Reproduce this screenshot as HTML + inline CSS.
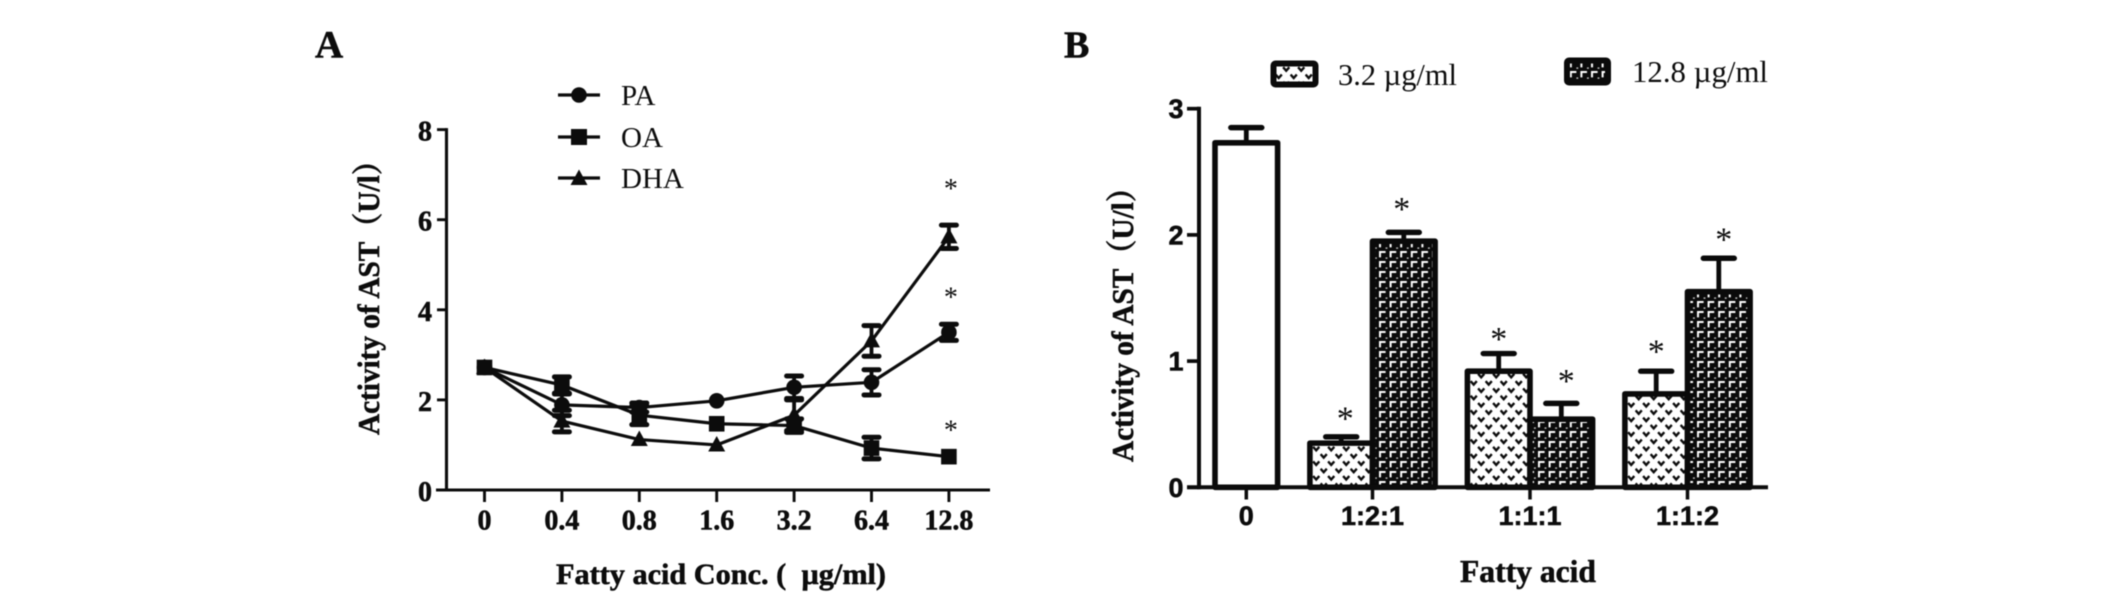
<!DOCTYPE html>
<html lang="en">
<head>
<meta charset="utf-8">
<title>Activity of AST</title>
<style>
html,body{margin:0;padding:0;background:#fff;width:2126px;height:600px;overflow:hidden}
svg{display:block;filter:blur(0.45px)}
.serif{font-family:"Liberation Serif","Noto Serif CJK SC",serif;fill:#0c0c0c}
.sans{font-family:"Liberation Sans","Noto Sans CJK SC",sans-serif;fill:#0c0c0c}
.b{font-weight:bold;stroke:#0c0c0c;stroke-width:0.55px}
</style>
</head>
<body>
<svg id="fig" xmlns="http://www.w3.org/2000/svg" width="2126" height="600" viewBox="0 0 2126 600">
  <defs>
    <pattern id="p-light" width="15" height="14.6" patternUnits="userSpaceOnUse">
      <rect width="15" height="14.6" fill="#fff"/>
      <path d="M0.6 1.5 L3.7 5 L6.8 1.5 M8.1 8.8 L11.2 12.3 L14.3 8.8" fill="none" stroke="#0c0c0c" stroke-width="2.4"/>
    </pattern>
    <pattern id="p-dark" width="10.6" height="10" patternUnits="userSpaceOnUse">
      <rect width="10.6" height="10" fill="#0a0a0a"/>
      <path d="M2 7.4 V2 H7.6" fill="none" stroke="#fff" stroke-width="2"/>
      <rect x="7.6" y="7.4" width="1.8" height="1.4" fill="#ccc"/>
    </pattern>
  </defs>

  <text class="serif b" x="315" y="57.5" font-size="39">A</text>
  <text class="serif b" x="1064" y="57.5" font-size="38">B</text>

  <text class="serif b" font-size="31" transform="translate(379 435) rotate(-90)" textLength="289" lengthAdjust="spacingAndGlyphs">Activity of AST（U/l）</text>
  <text class="serif b" font-size="30" x="556" y="584" textLength="330" lengthAdjust="spacingAndGlyphs">Fatty acid Conc. (&#160;&#160;µg/ml)</text>

  <text class="serif b" font-size="31" transform="translate(1133 462) rotate(-90)" textLength="289" lengthAdjust="spacingAndGlyphs">Activity of AST（U/l）</text>
  <text class="serif b" font-size="32" x="1460" y="582" textLength="136" lengthAdjust="spacingAndGlyphs">Fatty acid</text>

  <g id="legend-a">
    <g>
      <line x1="558" x2="600" y1="95" y2="95" stroke="#0c0c0c" stroke-width="3.2"/>
      <circle cx="579" cy="95" r="7.8" fill="#0c0c0c"/>
      <text class="serif" x="621" y="105" font-size="29">PA</text>
    </g>
    <g>
      <line x1="558" x2="600" y1="137" y2="137" stroke="#0c0c0c" stroke-width="3.2"/>
      <rect x="571" y="129" width="16" height="16" fill="#0c0c0c"/>
      <text class="serif" x="621" y="147" font-size="29">OA</text>
    </g>
    <g>
      <line x1="558" x2="600" y1="178" y2="178" stroke="#0c0c0c" stroke-width="3.2"/>
      <path d="M579 169.5 L587.5 185 L570.5 185 Z" fill="#0c0c0c"/>
      <text class="serif" x="621" y="188" font-size="29">DHA</text>
    </g>
  </g>

  <g id="legend-b">
    <g>
      <rect x="1273.5" y="63.5" width="42" height="21" rx="2" fill="url(#p-light)" stroke="#0a0a0a" stroke-width="6"/>
      <text class="serif" x="1338" y="85" font-size="31" textLength="119" lengthAdjust="spacingAndGlyphs">3.2 µg/ml</text>
    </g>
    <g>
      <rect x="1567" y="60.5" width="41" height="22" rx="2" fill="url(#p-dark)" stroke="#0a0a0a" stroke-width="6"/>
      <text class="serif" x="1632" y="82" font-size="31" textLength="136" lengthAdjust="spacingAndGlyphs">12.8 µg/ml</text>
    </g>
  </g>

  <g id="chart-a"></g>
  <g id="chart-b"></g>
</svg>
<script>
// Panel A data
const concLabels = ['0','0.4','0.8','1.6','3.2','6.4','12.8'];
const yTicksA = [0,2,4,6,8];
const paValues  = [2.72,1.89,1.83,1.98,2.28,2.39,3.50];
const oaValues  = [2.72,2.33,1.66,1.47,1.43,0.93,0.74];
const dhaValues = [2.72,1.53,1.12,1.00,1.66,3.31,5.62];
const paErrors  = [0,0.24,0.10,0,0.25,0.28,0.18];
const oaErrors  = [0,0.18,0.21,0,0.15,0.24,0];
const dhaErrors = [0,0.24,0,0,0.34,0.34,0.26];
const starLevelsA = [1.40,4.35,6.76];

// Panel B data
const ratioLabels = ['0','1:2:1','1:1:1','1:1:2'];
const yTicksB = [0,1,2,3];
const controlValues = [2.73];
const controlErrors = [0.12];
const lowValues  = [0.35,0.92,0.74];
const lowErrors  = [0.05,0.14,0.18];
const highValues = [1.95,0.54,1.55];
const highErrors = [0.07,0.125,0.265];
const lowStarLevels  = [0.58,1.21,1.11];
const highStarLevels = [2.24,0.876,2.0];

const NS = 'http://www.w3.org/2000/svg';
const INK = '#0c0c0c';
function mk(tag, attrs, parent, txt){
  const el = document.createElementNS(NS, tag);
  for (const k in attrs) el.setAttribute(k, attrs[k]);
  if (txt !== undefined) el.textContent = txt;
  parent.appendChild(el);
  return el;
}

/* ---------- Panel A ---------- */
const gA = document.getElementById('chart-a');
const xA = i => 484.5 + 77.4 * i;
const yA = v => 490 - 45.05 * v;

function tickA(){
  const axisY = mk('line',{x1:446.5,x2:446.5,y1:yA(8)-1.5,y2:yA(0)+1.5,stroke:INK,'stroke-width':3.1},gA);
  
  
  const axisX = mk('line',{x1:436,x2:990,y1:yA(0),y2:yA(0),stroke:INK,'stroke-width':3.1},gA);
  
  
  yTicksA.forEach(t=>{
    const tk = mk('line',{x1:437,x2:446.5,y1:yA(t),y2:yA(t),stroke:INK,'stroke-width':2.9},gA);
    
    
    const lb = mk('text',{class:'serif b',x:432,y:yA(t)+11,'text-anchor':'end','font-size':28},gA,String(t));
    
    
  });
  concLabels.forEach((c,i)=>{
    const tk = mk('line',{x1:xA(i),x2:xA(i),y1:yA(0),y2:502,stroke:INK,'stroke-width':2.9},gA);
    
    
    const lb = mk('text',{class:'serif b',x:xA(i),y:529.5,'text-anchor':'middle','font-size':28},gA,c);
    
    
  });
}
tickA();

function drawSeries(name, values, errors, marker){
  const line = mk('polyline',{points:values.map((v,i)=>xA(i)+','+yA(v)).join(' '),fill:'none',stroke:INK,'stroke-width':3.2,'stroke-linejoin':'round'},gA);
  
  
  values.forEach((v,i)=>{
    const e = errors[i];
    if (e > 0){
      const eb = mk('path',{d:'M'+xA(i)+' '+yA(v+e)+' V'+yA(v-e),stroke:INK,'stroke-width':3.8,fill:'none'},gA);
      
      
      [v+e,v-e].forEach(c=>{
        const cap = mk('line',{x1:xA(i)-7.5,x2:xA(i)+7.5,y1:yA(c),y2:yA(c),stroke:INK,'stroke-width':5,'stroke-linecap':'round'},gA);
        
        
      });
    }
    const cx = xA(i), cy = yA(v);
    let m;
    if (marker === 'circle') m = mk('circle',{cx:cx,cy:cy,r:7.8,fill:INK},gA);
    else if (marker === 'square') m = mk('rect',{x:cx-7.8,y:cy-7.8,width:15.6,height:15.6,fill:INK},gA);
    else m = mk('path',{d:'M'+cx+' '+(cy-9)+' L'+(cx+8.5)+' '+(cy+6.5)+' L'+(cx-8.5)+' '+(cy+6.5)+' Z',fill:INK},gA);
    
    
  });
}
drawSeries('pa-series', paValues, paErrors, 'circle');
drawSeries('oa-series', oaValues, oaErrors, 'square');
drawSeries('dha-series', dhaValues, dhaErrors, 'triangle');

starLevelsA.forEach(l=>{
  const s = mk('text',{class:'serif',x:xA(6)+2,y:yA(l)+12.7,'text-anchor':'middle','font-size':28},gA,'*');
  
  
});

/* ---------- Panel B ---------- */
const gB = document.getElementById('chart-b');
const yB = v => 487.3 - 126.2 * v;
const BAR_W = 62.6, GAP = 32.3, START = 1215;
const groupStart = g => g === 0 ? START : START + BAR_W + GAP + (g-1) * (2*BAR_W + GAP);
const groupMid = g => g === 0 ? START + BAR_W/2 : groupStart(g) + BAR_W;
const lowStarShift = i => i === 0 ? 4 : 0;
const highStarShift = i => i === 0 ? -2 : 5;

function drawBar(name, x, v, e, fill, level, shift){
  const r = mk('rect',{x:x,y:yB(v),width:BAR_W,height:yB(0)-yB(v),fill:fill,stroke:'#0a0a0a','stroke-width':5.6,'stroke-linejoin':'round'},gB);
  
  
  const cx = x + BAR_W/2;
  const eb = mk('line',{x1:cx,x2:cx,y1:yB(v),y2:yB(v+e),stroke:'#0a0a0a','stroke-width':4.8},gB);
  
  
  const cap = mk('line',{x1:cx-15.5,x2:cx+15.5,y1:yB(v+e),y2:yB(v+e),stroke:'#0a0a0a','stroke-width':5.4,'stroke-linecap':'round'},gB);
  
  
  if (level !== undefined){
    const s = mk('text',{class:'serif',x:cx+shift,y:yB(level)+15.5,'text-anchor':'middle','font-size':34},gB,'*');
    
    
  }
}
drawBar('control', groupStart(0), controlValues[0], controlErrors[0], '#fff');
lowValues.forEach((v,i)=>{
  drawBar('low-dose', groupStart(i+1), v, lowErrors[i], 'url(#p-light)', lowStarLevels[i], lowStarShift(i));
});
highValues.forEach((v,i)=>{
  drawBar('high-dose', groupStart(i+1)+BAR_W, v, highErrors[i], 'url(#p-dark)', highStarLevels[i], highStarShift(i));
});

const axisYB = mk('line',{x1:1199,x2:1199,y1:yB(3)-1.9,y2:yB(0)+1.9,stroke:INK,'stroke-width':4},gB);


const axisXB = mk('line',{x1:1187,x2:1768,y1:yB(0),y2:yB(0),stroke:INK,'stroke-width':4},gB);


yTicksB.forEach(t=>{
  const tk = mk('line',{x1:1187,x2:1199,y1:yB(t),y2:yB(t),stroke:INK,'stroke-width':3.7},gB);
  
  
  const lb = mk('text',{class:'sans b',x:1183.5,y:yB(t)+9.5,'text-anchor':'end','font-size':27},gB,String(t));
  
  
});
ratioLabels.forEach((c,g)=>{
  const tk = mk('line',{x1:groupMid(g),x2:groupMid(g),y1:yB(0),y2:499.5,stroke:INK,'stroke-width':3.5},gB);
  
  
  const lb = mk('text',{class:'sans b',x:groupMid(g),y:525,'text-anchor':'middle','font-size':27},gB,c);
  
  
});
</script>
</body>
</html>
